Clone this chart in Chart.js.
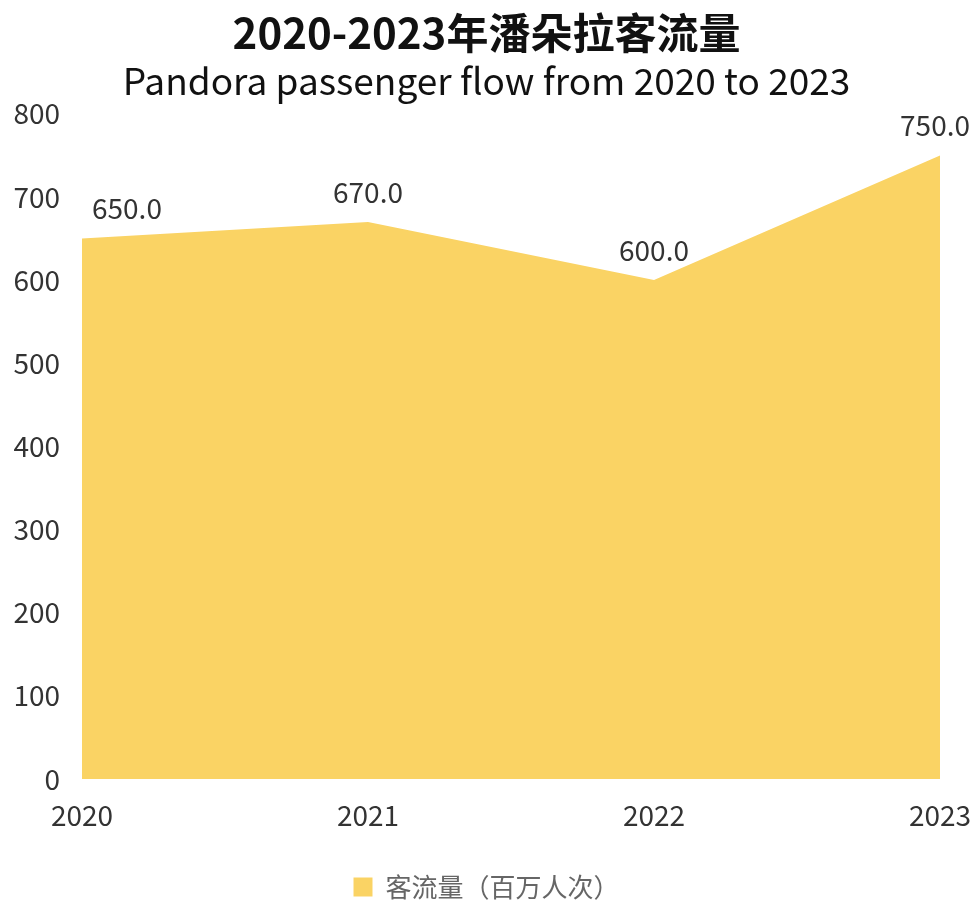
<!DOCTYPE html>
<html>
<head>
<meta charset="utf-8">
<script src="https://cdn.jsdelivr.net/npm/chart.js@4"></script>
<style>
html,body{margin:0;padding:0;background:#fff;}
#wrap{width:973px;height:901px;}
</style>
</head>
<body>
<div id="wrap"><canvas id="c" width="973" height="901"></canvas></div>
<script>
const categories = ['2020', '2021', '2022', '2023'];
const passengerFlow = [650, 670, 600, 750];
const seriesName = '客流量（百万人次）';
const titleText = '2020-2023年潘朵拉客流量';
const subtitleText = 'Pandora passenger flow from 2020 to 2023';

const FONT = "'Noto Sans CJK SC', 'Noto Sans', sans-serif";
Chart.defaults.font.family = FONT;

const valueLabels = {
  id: 'valueLabels',
  afterDatasetsDraw(chart) {
    const ctx = chart.ctx;
    const meta = chart.getDatasetMeta(0);
    const area = chart.chartArea;
    ctx.save();
    ctx.font = "28px " + FONT;
    ctx.fillStyle = '#333';
    ctx.textAlign = 'center';
    ctx.textBaseline = 'middle';
    meta.data.forEach((pt, i) => {
      const txt = passengerFlow[i].toFixed(1);
      const w = ctx.measureText(txt).width;
      let x = pt.x;
      x = Math.max(x, area.left + 10 + w / 2);
      x = Math.min(x, chart.width - 3 - w / 2);
      ctx.fillText(txt, x, pt.y - 30);
    });
    ctx.restore();
  }
};

new Chart(document.getElementById('c'), {
  type: 'line',
  data: {
    labels: categories,
    datasets: [{
      label: seriesName,
      data: passengerFlow,
      fill: 'origin',
      backgroundColor: '#FAD364',
      borderColor: '#FAD364',
      borderWidth: 0,
      pointRadius: 0,
      pointHoverRadius: 0,
      tension: 0
    }]
  },
  options: {
    responsive: false,
    animation: false,
    devicePixelRatio: 1,
    layout: { padding: { left: 0, right: 0, top: 0, bottom: -9 } },
    plugins: {
      title: {
        display: true,
        text: titleText,
        color: '#111',
        font: { size: 42, weight: 'bold' },
        padding: { top: 8, bottom: 0 }
      },
      subtitle: {
        display: true,
        text: subtitleText,
        color: '#111',
        font: { size: 37, weight: 'normal' },
        padding: { top: 0, bottom: 11 }
      },
      legend: {
        display: true,
        position: 'bottom',
        labels: {
          boxWidth: 19,
          boxHeight: 19,
          color: '#666',
          font: { size: 26 },
          padding: 2
        }
      },
      tooltip: { enabled: false }
    },
    scales: {
      x: {
        grid: { display: false, drawTicks: false },
        border: { display: false },
        ticks: { color: '#333', font: { size: 28 }, padding: 20, maxRotation: 0 },
        afterFit(scale) { scale.height = 93; scale.paddingRight = 33; }
      },
      y: {
        min: 0,
        max: 800,
        grid: { display: false, drawTicks: false },
        border: { display: false },
        ticks: { stepSize: 100, color: '#333', font: { size: 28 }, padding: 22 },
        afterFit(scale) { scale.width = 82; }
      }
    }
  },
  plugins: [valueLabels]
});
</script>
</body>
</html>
